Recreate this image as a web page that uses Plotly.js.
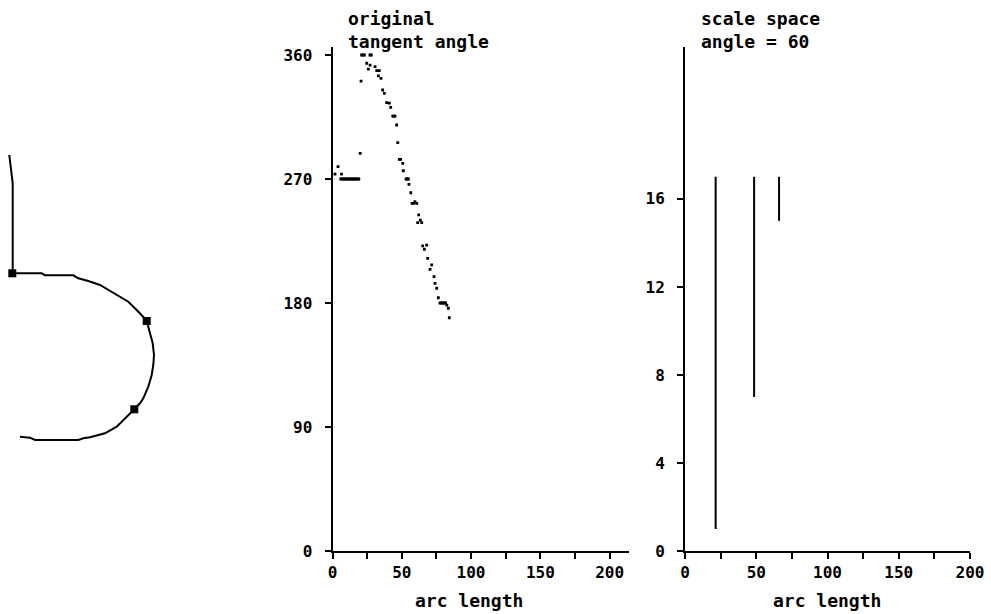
<!DOCTYPE html>
<html>
<head>
<meta charset="utf-8">
<script src="https://cdn.plot.ly/plotly-3.0.1.min.js"></script>
<style>html,body{margin:0;padding:0;background:#fff;}</style>
</head>
<body>
<div id="chart" style="width:991px;height:614px;"></div>
<script>
// ---- Data: digitised contour (left panel, drawing units) ----
const contourX = [9.3, 11.7, 12.7, 12.7, 41.7, 45, 73.3, 78.3, 88.3, 100, 110, 120, 128.3, 136.7, 146.7, 150, 152.7, 154, 153.3, 151.7, 148.3, 143.3, 140, 134.3, 126.7, 116.7, 105, 90, 83.3, 78.3, 35, 30, 20];
const contourY = [155, 171.7, 183.3, 273.3, 273.3, 275.3, 275.3, 278.3, 281, 285, 290.7, 296.7, 301.7, 310, 320.5, 333.3, 343.3, 355, 365, 375, 386.7, 398.3, 403.3, 409.3, 416.7, 426.7, 433.3, 437.3, 438.3, 440, 440, 437.7, 436.7];
const cornerX = [12.3, 146.7, 134.3];
const cornerY = [273.3, 321, 409.3];

// ---- Data: original tangent angle vs arc length ----
const arcLength = [1.8, 4, 6.5,
  6, 7, 8, 9, 10, 11, 12, 13, 14, 15, 16, 17, 18, 19,
  20, 20.6, 21, 22, 23, 27, 28,
  24.7, 25.9, 27.1, 30.7, 31.9, 33.8, 33.1, 35, 36.2, 37.4, 39.1, 41, 42,
  43.5, 44.3, 45.1, 46.3, 47.1, 48.2, 49.2, 50.7, 51.1, 53.1, 53.9, 54.7,
  55.2, 56.5, 57.4, 58.5, 59.5, 60.8, 61.5, 62.2, 63.4, 64.4, 65.1, 66.3, 68,
  68.7, 70.4, 71.6, 73.3, 74, 75.2, 76.4, 77.6, 78.6, 79.6, 80.6, 81.6, 82.5, 83.6, 84.3];
const tangentAngle = [273.6, 279, 273.6,
  270, 270, 270, 270, 270, 270, 270, 270, 270, 270, 270, 270, 270, 270,
  288.6, 341, 360, 360, 360, 360, 360,
  354, 349.8, 352.7, 351.5, 348.6, 348.6, 344.8, 343.1, 334.6, 332.2, 325.4, 325, 322,
  315.7, 315.7, 315.7, 309.2, 296.4, 284.3, 284.3, 281.4, 276, 270, 270, 270,
  266.1, 260, 252.3, 252.3, 253.5, 252.3, 238.3, 243.9, 240.2, 238.3, 221.4, 219, 222,
  212.4, 204.4, 207.6, 199.1, 194.3, 190.7, 183.8, 180, 180, 180, 180, 180, 178.5, 176.2, 169.3];

// ---- Data: scale space (angle = 60) ----
const ssArc = [21.5, 48.5, 66];
const ssTop = [17, 17, 17];
const ssBottom = [1, 7, 15];

// ---- Tick labels ----
const xTickVals = [0, 25, 50, 75, 100, 125, 150, 175, 200];
const xTickText = ['0', '', '50', '', '100', '', '150', '', '200'];
const angleTicks = [0, 90, 180, 270, 360];
const scaleTicks = [0, 4, 8, 12, 16];

// build scale-space segments
const segX = [], segY = [];
ssArc.forEach((x, i) => { segX.push(x, x, null); segY.push(ssBottom[i], ssTop[i], null); });

const W = 991, H = 614;
const MONO = 'DejaVu Sans Mono, monospace';
const px = v => v / W;
const py = v => 1 - v / H;

const traces = [
  {x: contourX, y: contourY, xaxis: 'x', yaxis: 'y', mode: 'lines',
   line: {color: '#000', width: 2}, hoverinfo: 'skip'},
  {x: cornerX, y: cornerY, xaxis: 'x', yaxis: 'y', mode: 'markers',
   marker: {symbol: 'square', size: 8, color: '#000'}, hoverinfo: 'skip'},
  {x: arcLength, y: tangentAngle, xaxis: 'x2', yaxis: 'y2', mode: 'markers',
   marker: {symbol: 'square', size: 2.8, color: '#000'}},
  {x: segX, y: segY, xaxis: 'x3', yaxis: 'y3', mode: 'lines',
   line: {color: '#000', width: 2}, connectgaps: false}
];

const tickFont = {family: MONO, size: 16, color: '#000', weight: 'bold'};
const textFont = {family: MONO, size: 18, color: '#000', weight: 'bold'};

const axisCommon = {
  showline: true, linecolor: '#000', linewidth: 2, showgrid: false, zeroline: false,
  ticks: 'outside', ticklen: 6, tickwidth: 2, tickcolor: '#000',
  tickfont: tickFont, fixedrange: true
};

const layout = {
  width: W, height: H,
  margin: {l: 0, r: 0, t: 0, b: 0},
  paper_bgcolor: '#fff', plot_bgcolor: 'rgba(0,0,0,0)',
  showlegend: false,
  xaxis: {domain: [0, 200 / W], range: [0, 200], visible: false, fixedrange: true},
  yaxis: {domain: [0, 1], range: [614, 0], visible: false, fixedrange: true},
  xaxis2: Object.assign({}, axisCommon, {domain: [px(332.5), px(629)], range: [0, 214],
    tickmode: 'array', tickvals: xTickVals, ticktext: xTickText, anchor: 'y2', ticklabelstandoff: 0}),
  yaxis2: Object.assign({}, axisCommon, {domain: [py(551), py(47)], range: [0, 365.8],
    tickmode: 'array', tickvals: angleTicks, anchor: 'x2', ticklabelstandoff: 9}),
  xaxis3: Object.assign({}, axisCommon, {domain: [px(685), px(970)], range: [0, 200],
    tickmode: 'array', tickvals: xTickVals, ticktext: xTickText, anchor: 'y3', ticklabelstandoff: 0}),
  yaxis3: Object.assign({}, axisCommon, {domain: [py(551), py(47)], range: [0, 22.9],
    tickmode: 'array', tickvals: scaleTicks, anchor: 'x3', ticklabelstandoff: 9}),
  annotations: [
    {text: 'original<br>tangent angle', xref: 'paper', yref: 'paper', x: px(346), y: py(6),
     xanchor: 'left', yanchor: 'top', align: 'left', showarrow: false, font: textFont},
    {text: 'scale space<br>angle = 60', xref: 'paper', yref: 'paper', x: px(699), y: py(6),
     xanchor: 'left', yanchor: 'top', align: 'left', showarrow: false, font: textFont},
    {text: 'arc length', xref: 'x2', yref: 'paper', x: 98.6, y: py(600),
     xanchor: 'center', yanchor: 'middle', showarrow: false, font: textFont},
    {text: 'arc length', xref: 'x3', yref: 'paper', x: 99.6, y: py(600),
     xanchor: 'center', yanchor: 'middle', showarrow: false, font: textFont}
  ]
};

Plotly.newPlot('chart', traces, layout, {staticPlot: true, displayModeBar: false});
</script>
</body>
</html>
